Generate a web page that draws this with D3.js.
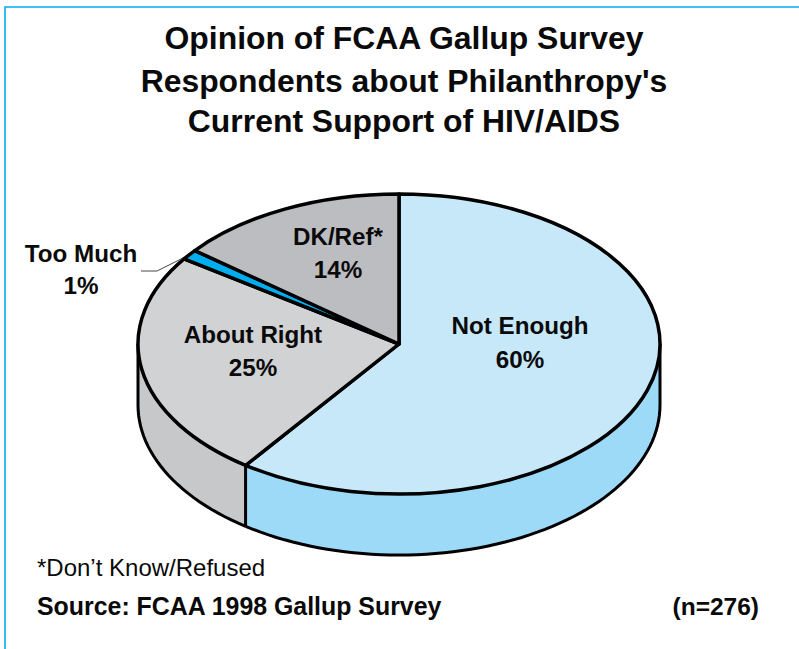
<!DOCTYPE html>
<html><head><meta charset="utf-8">
<script src="https://cdnjs.cloudflare.com/ajax/libs/d3/7.8.5/d3.min.js"></script>
<style>html,body{margin:0;padding:0;background:#fff}svg{display:block}text{font-family:"Liberation Sans",Arial,sans-serif;fill:#0a0a0a}</style>
</head><body><script>
const categories = ["Not Enough", "About Right", "Too Much", "DK/Ref*"];
const values = [60, 24.6, 1.1, 14.3];
const percentLabels = ["60%", "25%", "1%", "14%"];
const topColors = ["#C7E8F9", "#D1D2D4", "#00AEEF", "#BCBDC0"];
const sideColors = ["#9CDAF8", "#C7C8CA", "#00AEEF", "#BCBDC0"];
const titleLines = ["Opinion of FCAA Gallup Survey", "Respondents about Philanthropy's", "Current Support of HIV/AIDS"];
const W = 799, H = 649, cx = 399, cy = 344, rx = 261, ry = 150, depth = 61;

const svg = d3.select("body").append("svg").attr("width", W).attr("height", H);
svg.append("path").attr("d", `M${W},7H5V${H}`).attr("fill", "none").attr("stroke", "#00AEEF").attr("stroke-width", 1.6);

const title = svg.append("g").attr("font-weight", "bold").attr("font-size", 31.9).attr("text-anchor", "middle");
titleLines.forEach((t, i) => title.append("text").attr("x", 404).attr("y", [49, 92, 132][i]).text(t));

const pie = d3.pie().sort(null).value(d => d);
const arcs = pie(values);
const px = a => cx + rx * Math.sin(a), py = a => cy - ry * Math.cos(a);

// Side wall of the tilted pie: only the front half of the rim (90°–270°) is visible
const rimStep = Math.PI / 90;
const wall = d3.area().x(a => px(a)).y0(a => py(a)).y1(a => py(a) + depth);
const frontArcs = arcs.map((d, i) => {
  const a0 = Math.max(d.startAngle, Math.PI / 2), a1 = Math.min(d.endAngle, 3 * Math.PI / 2);
  return a1 > a0 ? { i, a0, a1, pts: [...d3.range(a0, a1, rimStep), a1] } : null;
}).filter(Boolean);
const g = svg.append("g");
frontArcs.forEach(f => {
  g.append("path").attr("d", wall(f.pts)).attr("fill", sideColors[f.i]).attr("stroke", "none");
  g.append("path").attr("d", d3.line().x(a => px(a)).y(a => py(a) + depth)(f.pts))
    .attr("fill", "none").attr("stroke", "#000").attr("stroke-width", 3);
});
// Wall edges: left and right silhouettes and the seam between slices
[Math.PI / 2, 3 * Math.PI / 2, arcs[0].endAngle].forEach(a => {
  g.append("line").attr("x1", px(a)).attr("x2", px(a)).attr("y1", py(a)).attr("y2", py(a) + depth)
    .attr("stroke", "#000").attr("stroke-width", 3);
});

// Top face
const arc = d3.arc().innerRadius(0).outerRadius(rx);
const topG = g.append("g").attr("transform", `translate(${cx},${cy}) scale(1,${ry / rx})`);
topG.selectAll("path").data(arcs).join("path")
  .attr("d", arc)
  .attr("fill", (d, i) => topColors[i])
  .attr("stroke", "#000").attr("stroke-width", 3.5).attr("stroke-linejoin", "round")
  .attr("vector-effect", "non-scaling-stroke");

// Labels
const label = svg.append("g").attr("font-weight", "bold").attr("font-size", 24.2).attr("text-anchor", "middle");
const labelPos = [[520, 334, 368], [253, 343, 376], [81, 262, 294], [338, 245, 278]];
arcs.forEach((d, i) => {
  const [x, y1, y2] = labelPos[i];
  label.append("text").attr("x", x).attr("y", y1).text(categories[i]);
  label.append("text").attr("x", x).attr("y", y2).text(percentLabels[i]);
});

// Leader for Too Much
svg.append("path").attr("d", "M141,271H157L183,258").attr("fill", "none").attr("stroke", "#333").attr("stroke-width", 0.9);

svg.append("text").attr("x", 37).attr("y", 576).attr("font-size", 24).text("*Don’t Know/Refused");
svg.append("text").attr("x", 37).attr("y", 615).attr("font-size", 24.9).attr("font-weight", "bold").text("Source: FCAA 1998 Gallup Survey");
svg.append("text").attr("x", 759).attr("y", 615).attr("font-size", 24.5).attr("font-weight", "bold").attr("text-anchor", "end").text("(n=276)");
</script></body></html>
